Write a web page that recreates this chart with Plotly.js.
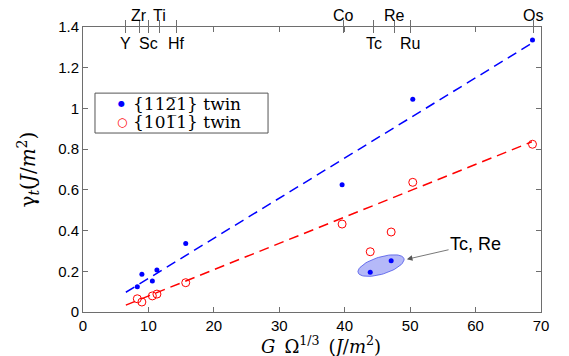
<!DOCTYPE html>
<html>
<head>
<meta charset="utf-8">
<script src="https://cdn.plot.ly/plotly-3.0.1.min.js"></script>
<style>html,body{margin:0;padding:0;background:#fff;}#chart{width:569px;height:356px;}</style>
</head>
<body>
<div id="chart"></div>
<script>
// ---- data ----
const gOmega = [8.3, 9.0, 10.6, 11.3, 15.7, 39.6, 43.9, 47.1, 50.4, 68.7];
const twin1121 = [0.124, 0.185, 0.152, 0.206, 0.337, 0.625, 0.195, 0.252, 1.045, 1.336];
const twin1011 = [0.065, 0.049, 0.079, 0.088, 0.144, 0.432, 0.296, 0.393, 0.637, 0.824];
const fitX = [6.55, 68.6];
const fit1121 = [0.097, 1.32];
const fit1011 = [0.034, 0.836];
const elemAbove = ['Zr', 'Ti', 'Co', 'Re', 'Os'];
const elemAboveX = [8.6, 11.66, 39.8, 47.6, 68.8];
const elemBelow = ['Y', 'Sc', 'Hf', 'Tc', 'Ru'];
const elemBelowX = [6.57, 10.0, 14.3, 44.4, 50.0];
const ellipseCenter = [45.55, 0.228];   // data coords of highlighted Tc, Re group
const annotText = 'Tc, Re';
const legendNames = ['{112\u03051} twin', '{101\u03051} twin'];

// ---- layout geometry ----
const W = 569, H = 356, mL = 83, mR = 28, mT = 27, mB = 44;
const xRange = [0, 70], yRange = [0, 1.4];
const pxX = (W - mL - mR) / (xRange[1] - xRange[0]);
const pxY = (H - mT - mB) / (yRange[1] - yRange[0]);

// ellipse outline (pixel-space semi-axes and tilt)
const ea = 24, eb = 8.6, eth = 17 * Math.PI / 180;
const ellX = [], ellY = [];
for (let i = 0; i <= 72; i++) {
  const t = 2 * Math.PI * i / 72;
  const u = ea * Math.cos(t), v = eb * Math.sin(t);
  const dx = u * Math.cos(eth) - v * Math.sin(eth);
  const dy = u * Math.sin(eth) + v * Math.cos(eth);
  ellX.push(ellipseCenter[0] + dx / pxX);
  ellY.push(ellipseCenter[1] + dy / pxY);
}

const allTop = elemAboveX.concat(elemBelowX);
const serif = 'DejaVu Serif, Liberation Serif, serif';
const sans = 'Liberation Sans, Arial, Helvetica, sans-serif';
const axCol = '#6e6e6e';

const traces = [
  {x: ellX, y: ellY, mode: 'lines', fill: 'toself', fillcolor: 'rgba(90,100,240,0.45)',
   line: {color: 'rgba(60,70,230,0.9)', width: 0.8}, showlegend: false, hoverinfo: 'skip'},
  {x: fitX, y: fit1121, mode: 'lines', line: {color: '#0000ff', width: 1.5, dash: '10px,6px'},
   showlegend: false, hoverinfo: 'skip'},
  {x: fitX, y: fit1011, mode: 'lines', line: {color: '#ff0000', width: 1.5, dash: '10px,6px'},
   showlegend: false, hoverinfo: 'skip'},
  {x: gOmega, y: twin1121, mode: 'markers', name: legendNames[0], showlegend: false,
   marker: {symbol: 'circle', size: 5, color: '#0000ff'}},
  {x: gOmega, y: twin1011, mode: 'markers', name: legendNames[1], showlegend: false,
   marker: {symbol: 'circle-open', size: 8, color: '#ff0000', line: {width: 1}}},
  {x: allTop, y: allTop.map(() => 0), xaxis: 'x2', mode: 'none', showlegend: false, hoverinfo: 'skip'},
  {x: allTop, y: allTop.map(() => 0), xaxis: 'x3', mode: 'none', showlegend: false, hoverinfo: 'skip'}
];

const annotations = [];
elemAbove.forEach((t, i) => annotations.push({
  x: elemAboveX[i], xref: 'x', y: 1, yref: 'paper', yanchor: 'bottom', yshift: 1,
  text: t, showarrow: false, font: {family: sans, size: 16, color: '#000'}
}));
elemBelow.forEach((t, i) => annotations.push({
  x: elemBelowX[i], xref: 'x', y: 1, yref: 'paper', yanchor: 'top', yshift: -6,
  text: t, showarrow: false, font: {family: sans, size: 16, color: '#000'}
}));
annotations.push({
  x: 49.5, y: 0.259, xref: 'x', yref: 'y', ax: 60.0, ay: 0.336, axref: 'x', ayref: 'y',
  text: annotText, showarrow: true, arrowhead: 2, arrowsize: 1.4, arrowwidth: 0.8,
  arrowcolor: '#555', font: {family: sans, size: 18, color: '#000'}
});
// axis titles
annotations.push({
  x: 0.52, xref: 'paper', y: -0.07, yref: 'paper', xanchor: 'center', yanchor: 'top',
  showarrow: false, borderpad: 0,
  text: '<i>G</i>\u2002\u03A9<sup>1/3</sup>\u2002(<i>J</i>/<i>m</i><sup>2</sup>)',
  font: {family: serif, size: 18, color: '#000'}
});
annotations.push({
  x: -0.12, xref: 'paper', y: 0.5, yref: 'paper', xanchor: 'center', yanchor: 'middle',
  showarrow: false, textangle: -90,
  text: '\u03B3<sub><i>t</i></sub>(<i>J</i>/<i>m</i><sup>2</sup>)',
  font: {family: serif, size: 20, color: '#000'}
});
// legend entries
const legRows = [0.730, 0.668];
const legSym = ['<span style="color:#0000ff">\u25CF</span>', '<span style="color:#ff0000">\u25CB</span>'];
const legSymSize = [8, 12];
legendNames.forEach((n, i) => {
  annotations.push({x: 0.0845, xref: 'paper', y: legRows[i], yref: 'paper', xanchor: 'center',
    yanchor: 'middle', showarrow: false, text: legSym[i],
    font: {family: 'DejaVu Sans, sans-serif', size: legSymSize[i]}});
  annotations.push({x: 0.105, xref: 'paper', y: legRows[i], yref: 'paper', xanchor: 'left',
    yanchor: 'middle', showarrow: false, text: n,
    font: {family: serif, size: 17, color: '#000'}});
});

const topAx = {
  overlaying: 'x', side: 'top', anchor: 'y', range: xRange, tickmode: 'array', tickvals: allTop,
  ticklen: 6, tickwidth: 1, tickcolor: axCol, showticklabels: false, showline: false,
  showgrid: false, zeroline: false
};

const layout = {
  width: W, height: H,
  margin: {l: mL, r: mR, t: mT, b: mB},
  paper_bgcolor: '#fff', plot_bgcolor: '#fff',
  showlegend: false,
  xaxis: {range: xRange, dtick: 10, tick0: 0, ticks: 'inside', ticklen: 5, tickcolor: axCol,
          showline: true, linecolor: axCol, linewidth: 1, mirror: 'ticks', showgrid: false, zeroline: false,
          tickfont: {family: sans, size: 15, color: '#000'}},
  xaxis2: Object.assign({}, topAx, {ticks: 'outside'}),
  xaxis3: Object.assign({}, topAx, {ticks: 'inside'}),
  yaxis: {range: yRange, dtick: 0.2, tick0: 0, ticks: 'inside', ticklen: 5, tickcolor: axCol,
          showline: true, linecolor: axCol, linewidth: 1, mirror: 'ticks', showgrid: false, zeroline: false,
          tickfont: {family: sans, size: 15, color: '#000'}},
  shapes: [{type: 'rect', xref: 'paper', yref: 'paper', x0: 0.0262, x1: 0.404, y0: 0.628, y1: 0.768,
            line: {color: '#555', width: 1}, fillcolor: '#fff', layer: 'above'}],
  annotations: annotations
};

Plotly.newPlot('chart', traces, layout, {displayModeBar: false, staticPlot: true});
</script>
</body>
</html>
